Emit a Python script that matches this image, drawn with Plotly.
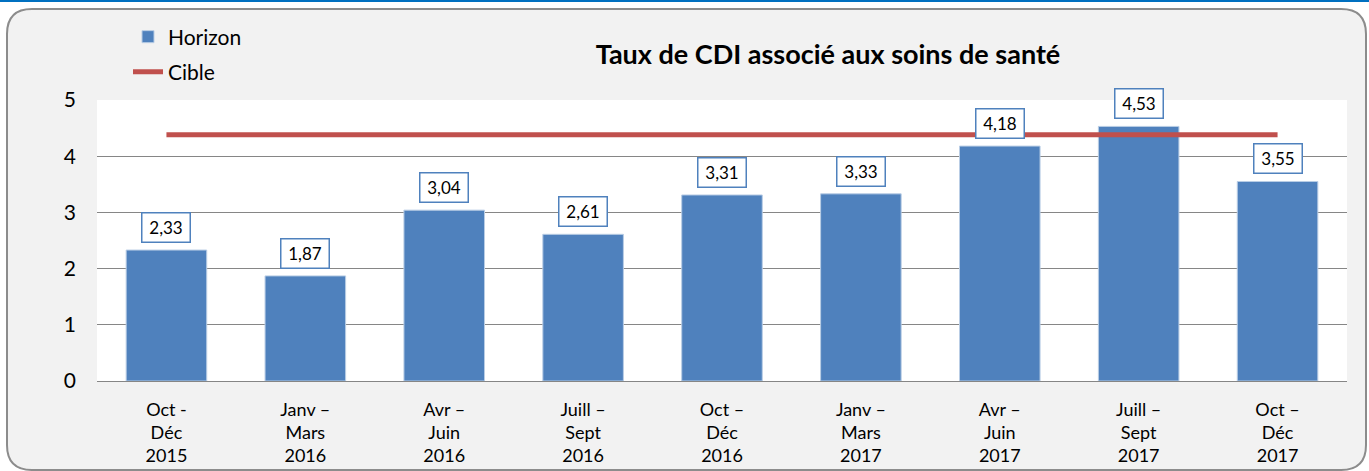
import plotly.graph_objects as go

categories = ["Oct -<br>Déc<br>2015", "Janv –<br>Mars<br>2016", "Avr –<br>Juin<br>2016",
              "Juill –<br>Sept<br>2016", "Oct –<br>Déc<br>2016", "Janv –<br>Mars<br>2017",
              "Avr –<br>Juin<br>2017", "Juill –<br>Sept<br>2017", "Oct –<br>Déc<br>2017"]
horizon = [2.33, 1.87, 3.04, 2.61, 3.31, 3.33, 4.18, 4.53, 3.55]
cible = [4.38] * len(categories)
y_ticks = [0, 1, 2, 3, 4, 5]

W, H = 1369, 471
L, R, T, B = 97, 1347, 100, 381
FONT = "Lato"


def px(x):
    return (x - L) / (R - L)


def py(y):
    return (B - y) / (B - T)


fig = go.Figure()
fig.add_trace(go.Bar(
    x=categories, y=horizon, name="Horizon",
    marker=dict(color="#4F81BD", line=dict(color="#B9CDE5", width=1)),
    legend="legend", showlegend=True,
))
fig.add_trace(go.Scatter(
    x=categories, y=cible, name="Cible", mode="lines",
    line=dict(color="#C0504D", width=5),
    legend="legend2", showlegend=True,
))

for c, v in zip(categories, horizon):
    fig.add_annotation(
        x=c, y=v, text=f"{v:.2f}".replace(".", ","), showarrow=False,
        yanchor="bottom", yshift=7, width=41, height=22,
        font=dict(family=FONT, size=17, color="black"),
        bgcolor="white", bordercolor="#4F81BD", borderwidth=1.5, borderpad=3,
    )

# rounded panel
x0, y0, x1, y1, r = 7, 9, 1366, 470, 25
pts = [
    ("M", (x0 + r, y0)), ("L", (x1 - r, y0)), ("Q", (x1, y0), (x1, y0 + r)),
    ("L", (x1, y1 - r)), ("Q", (x1, y1), (x1 - r, y1)), ("L", (x0 + r, y1)),
    ("Q", (x0, y1), (x0, y1 - r)), ("L", (x0, y0 + r)), ("Q", (x0, y0), (x0 + r, y0)),
]
path = ""
for seg in pts:
    cmd = seg[0]
    coords = " ".join(f"{px(p[0]):.5f},{py(p[1]):.5f}" for p in seg[1:])
    path += f"{cmd}{coords} "
path += "Z"

shapes = [
    dict(type="path", path=path, xref="paper", yref="paper", layer="below",
         fillcolor="#F2F2F2", line=dict(color="#8C8C8C", width=2)),
    dict(type="rect", x0=0, x1=1, y0=0, y1=1, xref="paper", yref="paper", layer="below",
         fillcolor="white", line=dict(width=0)),
    dict(type="line", x0=px(0), x1=px(W), y0=py(1), y1=py(1), xref="paper", yref="paper",
         line=dict(color="#0070C0", width=2)),
]

fig.update_layout(
    width=W, height=H,
    margin=dict(l=L, r=W - R, t=T, b=H - B, autoexpand=False),
    paper_bgcolor="white", plot_bgcolor="white",
    font=dict(family=FONT, color="black"),
    bargap=0.42,
    shapes=shapes,
    title=dict(text="<b>Taux de CDI associé aux soins de santé</b>",
               x=828 / W, xanchor="center", y=1 - 55 / H, yanchor="middle",
               font=dict(family=FONT, size=27, color="black")),
    legend=dict(x=px(128), y=py(37), xanchor="left", yanchor="middle",
                bgcolor="rgba(0,0,0,0)", font=dict(family=FONT, size=21)),
    legend2=dict(x=px(128), y=py(72), xanchor="left", yanchor="middle",
                 bgcolor="rgba(0,0,0,0)", font=dict(family=FONT, size=21)),
    xaxis=dict(showgrid=False, showline=True, linecolor="#868686", linewidth=1,
               tickfont=dict(family=FONT, size=18), ticks="", ticklabelstandoff=12),
    yaxis=dict(range=[0, 5], tickvals=y_ticks, showgrid=True, gridcolor="#868686",
               gridwidth=1, zeroline=False, showline=False, ticks="",
               tickfont=dict(family=FONT, size=21), ticklabelstandoff=20),
)

fig.write_html(
    "out.html",
    config={"displayModeBar": False},
    post_script="document.body.style.margin='0';document.body.style.overflow='hidden';",
)
